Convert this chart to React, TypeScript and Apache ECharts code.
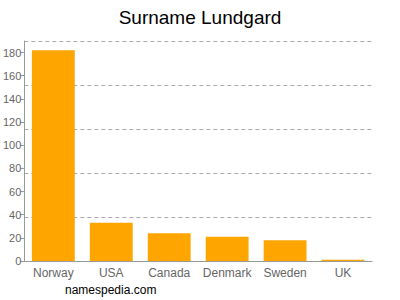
import React, { useEffect, useRef } from "react";
import * as echarts from "echarts";

const categories = ["Norway", "USA", "Canada", "Denmark", "Sweden", "UK"];
const values = [182, 33, 24, 21, 18, 1];
const titleText = "Surname Lundgard";
const watermark = "namespedia.com";

export default function App() {
  const ref = useRef<HTMLDivElement>(null);
  useEffect(() => {
    const chart = echarts.init(ref.current!, null, { renderer: "svg" });
    const font = "'Liberation Sans', Arial, sans-serif";
    chart.setOption({
      animation: false,
      title: {
        text: titleText,
        left: "center",
        top: 3,
        textStyle: { fontFamily: font, fontSize: 19, fontWeight: "normal", color: "#000" },
      },
      graphic: [
        {
          type: "text",
          left: 65,
          top: 284,
          style: { text: watermark, fontFamily: font, fontSize: 12, fill: "#000" },
        },
      ],
      grid: { left: 24, right: 28, top: 41, bottom: 39 },
      xAxis: {
        type: "category",
        data: categories,
        axisLine: { lineStyle: { color: "#999" } },
        axisTick: { show: false },
        axisLabel: { color: "#666", fontSize: 12, fontFamily: font, margin: 6, interval: 0 },
      },
      yAxis: [
        {
          type: "value",
          min: 0,
          max: 190,
          interval: 20,
          axisLine: { show: true, lineStyle: { color: "#999" } },
          axisTick: { show: true, length: 4, lineStyle: { color: "#999" } },
          axisLabel: { color: "#666", fontSize: 11, fontFamily: font, margin: 3, showMaxLabel: false },
          splitLine: { show: false },
        },
        {
          type: "value",
          min: 0,
          max: 190,
          interval: 38,
          axisLine: { show: false },
          axisTick: { show: false },
          axisLabel: { show: false },
          splitLine: { show: true, lineStyle: { color: "#aaa", type: [4, 3] } },
        },
      ],
      series: [
        {
          type: "bar",
          data: values,
          yAxisIndex: 0,
          barCategoryGap: "26%",
          itemStyle: { color: "#FFA500" },
        },
      ],
    });
    return () => chart.dispose();
  }, []);
  return <div ref={ref} style={{ width: 400, height: 300, position: "absolute", left: 0, top: 0 }} />;
}
